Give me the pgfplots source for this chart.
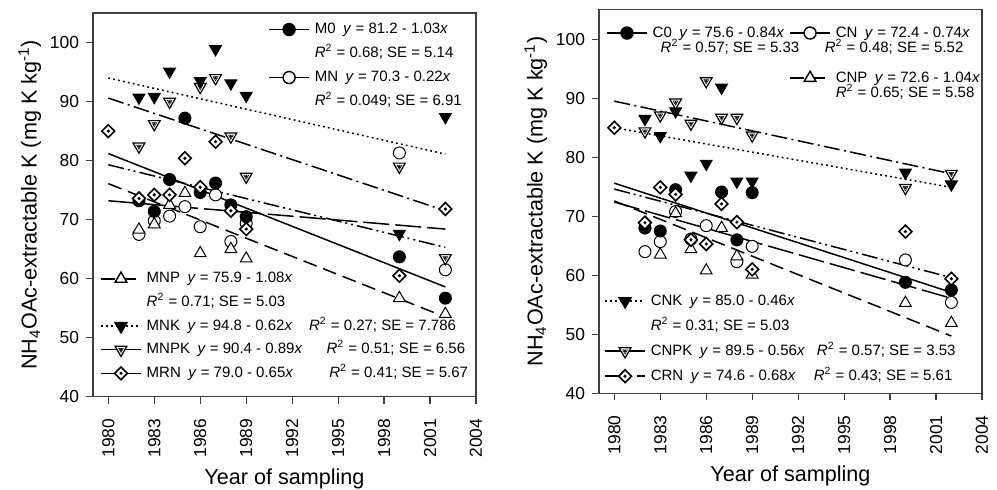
\documentclass[border=0pt]{standalone}
\usepackage{fontspec}
\setmainfont{Liberation Sans}
\usepackage{pgfplots}
\pgfplotsset{compat=1.18}

\pgfdeclareplotmark{tridot}{%
  \pgfpathmoveto{\pgfqpoint{0pt}{-\pgfplotmarksize}}%
  \pgfpathlineto{\pgfqpoint{0.866\pgfplotmarksize}{0.5\pgfplotmarksize}}%
  \pgfpathlineto{\pgfqpoint{-0.866\pgfplotmarksize}{0.5\pgfplotmarksize}}%
  \pgfpathclose
  \pgfusepathqfillstroke
  \pgfscope
  \pgfsetcolor{black}%
  \pgfsetlinewidth{0.25pt}%
  \pgfpathmoveto{\pgfqpoint{0pt}{-0.42\pgfplotmarksize}}%
  \pgfpathlineto{\pgfqpoint{0.36\pgfplotmarksize}{0.21\pgfplotmarksize}}%
  \pgfpathlineto{\pgfqpoint{-0.36\pgfplotmarksize}{0.21\pgfplotmarksize}}%
  \pgfpathclose
  \pgfusepathqstroke
  \pgfpathcircle{\pgfqpoint{0pt}{0pt}}{0.15\pgfplotmarksize}%
  \pgfusepathqfillstroke
  \endpgfscope
}
\pgfdeclareplotmark{diadot}{%
  \pgfpathmoveto{\pgfqpoint{0pt}{\pgfplotmarksize}}%
  \pgfpathlineto{\pgfqpoint{\pgfplotmarksize}{0pt}}%
  \pgfpathlineto{\pgfqpoint{0pt}{-\pgfplotmarksize}}%
  \pgfpathlineto{\pgfqpoint{-\pgfplotmarksize}{0pt}}%
  \pgfpathclose
  \pgfusepathqfillstroke
  \pgfscope
  \pgfsetcolor{black}%
  \pgfsetlinewidth{0.2pt}%
  \pgfpathcircle{\pgfqpoint{0pt}{0pt}}{0.22\pgfplotmarksize}%
  \pgfusepathqfillstroke
  \endpgfscope
}

\pgfplotsset{
  panel/.style={
    width=191.5pt, height=191.8pt, scale only axis,
    xmin=1979, xmax=2004, ymin=40, ymax=105,
    xtick={1980,1983,...,2004}, ytick={40,50,...,100},
    tick align=outside, xtick pos=left, ytick pos=left,
    major tick length=3.5pt,
    /pgf/number format/assume math mode=true,
    /pgf/number format/1000 sep={},
    scaled ticks=false,
    tick label style={font=\fontsize{8.7}{10}\selectfont},
    x tick label style={rotate=90, anchor=east},
    xticklabel shift=4pt,
    axis line style={line width=0.75pt, black!75},
    tick style={line width=0.6pt, black!75},
    label style={font=\fontsize{10.8}{13}\selectfont},
    xlabel={Year of sampling},
    ylabel={NH\textsubscript{4}OAc-extractable K (mg K kg\textsuperscript{-1})},
    xlabel style={at={(axis description cs:0.5,-0.229)}, anchor=base},
    ylabel style={at={(axis description cs:-0.165,0.5)}, anchor=center},
    clip=false,
  },
  over/.style={panel, hide axis},
  lg/.style={
    legend cell align=left,
    legend image code/.code={\draw[mark repeat=2,mark phase=2] plot coordinates {(0pt,0pt) (10pt,0pt) (20pt,0pt)};},
    legend style={draw=none, fill=none, inner sep=0pt, font=\fontsize{7.5}{9}\selectfont,
      row sep=4pt, column sep=2.5pt, nodes={inner sep=0pt, text height=6pt, text depth=2pt}},
  },
  reg/.style={black, line width=0.75pt, no marks, forget plot},
  pts/.style={only marks, forget plot, black, line width=0.5pt},
  lg-line/.style={black, line width=0.7pt},
  mFC/.style={mark=*, mark size=3pt, mark options={solid, fill=black}},
  mOC/.style={mark=*, mark size=3pt, mark options={solid, fill=white}},
  mTU/.style={mark=triangle*, mark size=3.4pt, mark options={solid, fill=white}},
  mTD/.style={mark=triangle*, mark size=3.4pt, mark options={solid, fill=black, rotate=180}},
  mTDD/.style={mark=tridot, mark size=3.4pt, mark options={solid, fill=white, line width=0.6pt}},
  mDD/.style={mark=diadot, mark size=3.2pt, mark options={solid, fill=white, line width=0.8pt}},
  ldot/.style={dash pattern=on 0.9pt off 1.6pt},
  ldash/.style={dash pattern=on 7pt off 3.5pt},
  llong/.style={dash pattern=on 13pt off 3pt},
  ldd/.style={dash pattern=on 8pt off 2.2pt on 1pt off 2.2pt},
  lddd/.style={dash pattern=on 8pt off 2pt on 1pt off 2pt on 1pt off 2pt},
}

\newcommand{\Rsq}{\textit{R}\textsuperscript{2}}
\newcommand{\yy}{\textit{y}}
\newcommand{\xx}{\textit{x}}

\begin{document}
\begin{tikzpicture}[x=1pt,y=1pt]
\path[use as bounding box] (0,0) rectangle (498.5,245);

% ================= LEFT PANEL =================
\begin{axis}[panel, lg, at={(46.5pt,46.65pt)}, anchor=south west,
  legend style={at={(axis description cs:0.457,0.979)}, anchor=north west}]
% regression lines
\addplot[reg, ldot]  coordinates {(1980,94.0) (2002,81.1)};
\addplot[reg, ldd]   coordinates {(1980,90.6) (2002,71.5)};
\addplot[reg]        coordinates {(1980,81.2) (2002,58.6)};
\addplot[reg, lddd]  coordinates {(1980,79.3) (2002,65.3)};
\addplot[reg, llong] coordinates {(1980,73.2) (2002,68.4)};
\addplot[reg, ldash] coordinates {(1980,76.1) (2002,53.5)};
% MN open circles
\addplot[pts, mOC] table {
1982 67.5
1983 69.8
1984 70.6
1985 72.2
1986 68.8
1987 74.2
1988 66.3
1989 69.4
1999 81.3
2002 61.5
};
% MNP open triangles
\addplot[pts, mTU] table {
1982 68.3
1983 69.2
1984 72.5
1985 74.5
1986 64.3
1988 65.0
1989 63.4
1999 56.7
2002 54.0
};
% M0 filled circles
\addplot[pts, mFC] table {
1982 73.2
1983 71.4
1984 76.8
1985 87.2
1986 74.6
1987 76.2
1988 72.5
1989 70.5
1999 63.7
2002 56.7
};
% MRN diamonds
\addplot[pts, mDD] table {
1980 85.0
1982 73.6
1983 74.2
1984 74.2
1985 80.4
1986 75.5
1987 83.2
1988 71.5
1989 68.4
1999 60.5
2002 71.8
};
% MNPK open triangles down with dot
\addplot[pts, mTDD] table {
1982 82.4
1983 86.2
1984 90.0
1986 92.5
1987 94.0
1988 84.1
1989 77.3
1999 79.0
2002 63.5
};
% MNK filled triangles down
\addplot[pts, mTD] table {
1982 90.7
1983 90.8
1984 95.1
1986 93.5
1987 98.9
1988 93.1
1989 91.0
1999 67.6
2002 87.4
};
\addlegendimage{lg-line, mFC}
\addlegendentry{M0\enspace\yy\ = 81.2 - 1.03\xx}
\addlegendimage{empty legend}
\addlegendentry{\Rsq\ = 0.68; SE = 5.14}
\addlegendimage{lg-line, mOC}
\addlegendentry{MN\enspace\yy\ = 70.3 - 0.22\xx}
\addlegendimage{empty legend}
\addlegendentry{\Rsq\ = 0.049; SE = 6.91}
\end{axis}

\begin{axis}[over, lg, at={(46.5pt,46.65pt)}, anchor=south west,
  legend style={at={(axis description cs:0.018,0.329)}, anchor=north west, row sep=3.8pt}]
\addlegendimage{lg-line, ldash, mTU}
\addlegendentry{MNP\enspace\yy\ = 75.9 - 1.08\xx}
\addlegendimage{empty legend}
\addlegendentry{\Rsq\ = 0.71; SE = 5.03}
\addlegendimage{lg-line, ldot, mTD}
\addlegendentry{MNK\enspace\yy\ = 94.8 - 0.62\xx\hspace{1.1em}\Rsq\ = 0.27; SE = 7.786}
\addlegendimage{lg-line, mTDD}
\addlegendentry{MNPK\enspace\yy\ = 90.4 - 0.89\xx\hspace{1.6em}\Rsq\ = 0.51; SE = 6.56}
\addlegendimage{lg-line, mDD}
\addlegendentry{MRN\enspace\yy\ = 79.0 - 0.65\xx\hspace{2.4em}\Rsq\ = 0.41; SE = 5.67}
\end{axis}

% ================= RIGHT PANEL =================
\begin{axis}[panel, lg, at={(299.5pt,48.35pt)}, anchor=south west,
  legend style={at={(axis description cs:0.018,0.961)}, anchor=north west, row sep=-0.5pt}]
\addplot[reg, ldd]   coordinates {(1980,89.5) (2002,77.2)};
\addplot[reg, ldot]  coordinates {(1980,85.0) (2002,74.9)};
\addplot[reg]        coordinates {(1980,75.6) (2002,57.1)};
\addplot[reg, lddd]  coordinates {(1980,74.6) (2002,59.6)};
\addplot[reg, llong] coordinates {(1980,72.4) (2002,56.1)};
\addplot[reg, ldash] coordinates {(1980,72.6) (2002,49.7)};
% CN open circles
\addplot[pts, mOC] table {
1982 64.0
1983 65.7
1984 70.8
1985 66.1
1986 68.4
1988 62.3
1989 64.9
1999 62.6
2002 55.4
};
% CNP open triangles
\addplot[pts, mTU] table {
1982 68.5
1983 63.5
1984 70.5
1985 64.4
1986 60.8
1987 68.0
1988 63.2
1989 60.1
1999 55.3
2002 51.9
};
% C0 filled circles
\addplot[pts, mFC] table {
1982 68.0
1983 67.5
1984 74.5
1987 74.1
1988 66.0
1989 74.0
1999 58.8
2002 57.5
};
% CRN diamonds
\addplot[pts, mDD] table {
1980 85.0
1982 68.9
1983 74.9
1984 73.7
1985 66.0
1986 65.3
1987 72.1
1988 69.0
1989 61.0
1999 67.4
2002 59.4
};
% CNK filled triangles down
\addplot[pts, mTD] table {
1982 86.5
1983 83.6
1984 87.8
1985 76.9
1986 78.9
1987 91.8
1988 75.9
1989 75.9
1999 77.4
2002 75.4
};
% CNPK open triangles down with dot
\addplot[pts, mTDD] table {
1982 84.4
1983 87.1
1984 89.3
1985 85.7
1986 92.9
1987 86.7
1988 86.7
1989 83.7
1999 74.8
2002 77.2
};
\addlegendimage{lg-line, mFC}
\addlegendentry{C0\enspace\yy\ = 75.6 - 0.84\xx}
\addlegendimage{empty legend}
\addlegendentry{\hspace*{4pt}\Rsq\ = 0.57; SE = 5.33}
\end{axis}

\begin{axis}[over, lg, at={(299.5pt,48.35pt)}, anchor=south west,
  legend style={at={(axis description cs:0.496,0.961)}, anchor=north west, row sep=-0.5pt}]
\addlegendimage{lg-line, mOC}
\addlegendentry{CN\enspace\yy\ = 72.4 - 0.74\xx}
\addlegendimage{empty legend}
\addlegendentry{\hspace*{-5.5pt}\Rsq\ = 0.48; SE = 5.52}
\addlegendimage{empty legend}
\addlegendentry{}
\addlegendimage{lg-line, ldash, mTU}
\addlegendentry{CNP\enspace\yy\ = 72.6 - 1.04\xx}
\addlegendimage{empty legend}
\addlegendentry{\Rsq\ = 0.65; SE = 5.58}
\end{axis}

\begin{axis}[over, lg, at={(299.5pt,48.35pt)}, anchor=south west,
  legend style={at={(axis description cs:0.013,0.262)}, anchor=north west, row sep=4.5pt}]
\addlegendimage{lg-line, ldot, mTD}
\addlegendentry{CNK\enspace\yy\ = 85.0 - 0.46\xx}
\addlegendimage{empty legend}
\addlegendentry{\Rsq\ = 0.31; SE = 5.03}
\addlegendimage{lg-line, mTDD}
\addlegendentry{CNPK\enspace\yy\ = 89.5 - 0.56\xx\hspace{0.8em}\Rsq\ = 0.57; SE = 3.53}
\addlegendimage{lg-line, llong, mDD}
\addlegendentry{CRN\enspace\yy\ = 74.6 - 0.68\xx\hspace{1.2em}\Rsq\ = 0.43; SE = 5.61}
\end{axis}
\end{tikzpicture}
\end{document}
